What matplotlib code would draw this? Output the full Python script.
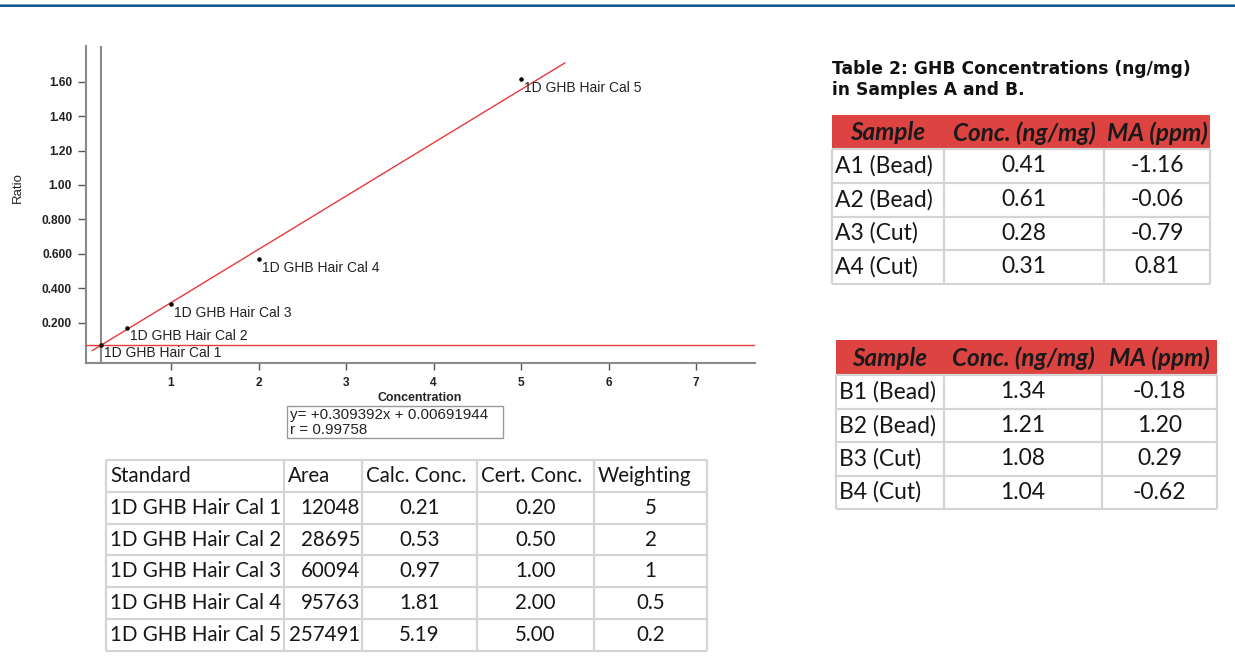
import numpy as np
import matplotlib
matplotlib.use("Agg")
import matplotlib.pyplot as plt
from matplotlib.patches import Rectangle

# ---------------- data ----------------
cal_names = ["1D GHB Hair Cal 1", "1D GHB Hair Cal 2", "1D GHB Hair Cal 3",
             "1D GHB Hair Cal 4", "1D GHB Hair Cal 5"]
cal_conc = [0.2, 0.5, 1.0, 2.0, 5.0]
cal_ratio = [0.072, 0.171, 0.307, 0.567, 1.613]
fit_slope = 0.309392
fit_intercept = 0.00691944
fit_r = 0.99758
fit_x_range = [0.1, 5.5]

y_ticks = [0.2, 0.4, 0.6, 0.8, 1.0, 1.2, 1.4, 1.6]
y_tick_labels = ["0.200", "0.400", "0.600", "0.800", "1.00", "1.20", "1.40", "1.60"]
x_ticks = [1, 2, 3, 4, 5, 6, 7]

std_header = ["Standard", "Area", "Calc. Conc.", "Cert. Conc.", "Weighting"]
std_area = ["12048", "28695", "60094", "95763", "257491"]
std_calc = ["0.21", "0.53", "0.97", "1.81", "5.19"]
std_cert = ["0.20", "0.50", "1.00", "2.00", "5.00"]
std_weight = ["5", "2", "1", "0.5", "0.2"]

tab_title = "Table 2: GHB Concentrations (ng/mg)\nin Samples A and B."
samp_header = ["Sample", "Conc. (ng/mg)", "MA (ppm)"]
a_samples = ["A1 (Bead)", "A2 (Bead)", "A3 (Cut)", "A4 (Cut)"]
a_conc = ["0.41", "0.61", "0.28", "0.31"]
a_ma = ["-1.16", "-0.06", "-0.79", "0.81"]
b_samples = ["B1 (Bead)", "B2 (Bead)", "B3 (Cut)", "B4 (Cut)"]
b_conc = ["1.34", "1.21", "1.08", "1.04"]
b_ma = ["-0.18", "1.20", "0.29", "-0.62"]

# ---------------- figure ----------------
W, H = 1235, 662
fig = plt.figure(figsize=(W / 100, H / 100), dpi=100)
fig.patch.set_facecolor("white")

CHART_FONT = ["Liberation Sans", "DejaVu Sans"]
TABLE_FONT = ["Lato", "DejaVu Sans"]
AXIS_GRAY = "#8a8a8a"
RED = "#e8383a"
TXT = "#161616"

# chart axes (pixel box: x 86..755, y 46..362.7)
ax = fig.add_axes([86 / W, 1 - 362.7 / H, (755 - 86) / W, (362.7 - 46) / H])
ax.set_xlim(0.0286, 7.674)
ax.set_ylim(-0.0325, 1.807)
for s in ["top", "right"]:
    ax.spines[s].set_visible(False)
for s in ["left", "bottom"]:
    ax.spines[s].set_color(AXIS_GRAY)
    ax.spines[s].set_linewidth(1.5)
ax.set_yticks(y_ticks)
ax.set_yticklabels(y_tick_labels)
ax.set_xticks(x_ticks)
ax.set_xticklabels([str(t) for t in x_ticks])
ax.tick_params(axis="y", direction="out", length=6, width=1, color="#555555", pad=4,
               labelsize=8.6, labelcolor="#222222")
ax.tick_params(axis="x", direction="out", length=5, width=1, color="#555555", pad=5,
               labelsize=8.6, labelcolor="#222222")
for lab in ax.get_xticklabels() + ax.get_yticklabels():
    lab.set_fontweight("bold")
    lab.set_family(CHART_FONT)

# regression line
fx = np.array(fit_x_range)
ax.plot(fx, fit_slope * fx + fit_intercept, color=RED, lw=1.0, zorder=3)
# cursor lines at first calibrator
ax.axhline(cal_ratio[0], color=RED, lw=1.0, zorder=3)
ax.axvline(cal_conc[0], color=AXIS_GRAY, lw=1.5, zorder=2)
# points
ax.scatter(cal_conc, cal_ratio, s=5, color="black", zorder=4)
for name, cx, cy in zip(cal_names, cal_conc, cal_ratio):
    ax.annotate(name, (cx, cy), xytext=(3, -8.5), textcoords="offset pixels",
                ha="left", va="center", fontsize=10, family=CHART_FONT, color="#222222")

# overlay in pixel coordinates
ov = fig.add_axes([0, 0, 1, 1])
ov.set_xlim(0, W)
ov.set_ylim(H, 0)
ov.axis("off")
ov.patch.set_visible(False)

# top band
ov.add_patch(Rectangle((0, 3.8), W, 1.0, color="#6c9cc4", lw=0))
ov.add_patch(Rectangle((0, 4.8), W, 2.4, color="#0f5a8e", lw=0))

# axis labels
ov.text(18, 188, "Ratio", rotation=90, ha="center", va="center", fontsize=9.5,
        family=CHART_FONT, color="#222222")
ov.text(420, 398, "Concentration", ha="center", va="center", fontsize=8.9,
        fontweight="bold", family=CHART_FONT, color="#222222")

# equation box
ov.add_patch(Rectangle((287, 406), 216, 32, fill=False, edgecolor="#999999", lw=1))
ov.text(290, 414.5, "y= +%.6fx + %.8f" % (fit_slope, fit_intercept), ha="left", va="center",
        fontsize=10.9, family=CHART_FONT, color="#222222")
ov.text(290, 430.5, "r = %.5f" % fit_r, ha="left", va="center",
        fontsize=10.9, family=CHART_FONT, color="#222222")

GRID = "#d4d4d4"


def grid(xe, ye, top_line=True):
    y0 = ye[0] if top_line else ye[1]
    for x in xe:
        ov.plot([x, x], [y0, ye[-1]], color=GRID, lw=1.6, solid_capstyle="butt")
    for i, y in enumerate(ye):
        if i == 0 and not top_line:
            continue
        ov.plot([xe[0], xe[-1]], [y, y], color=GRID, lw=1.6, solid_capstyle="butt")


# ---- standards table ----
sx = [106, 284, 362, 477, 594, 707]
sy = [460 + 31.8 * i for i in range(7)]
grid(sx, sy)
FS = 14.8
for j, h in enumerate(std_header):
    ov.text(sx[j] + 4, (sy[0] + sy[1]) / 2, h, ha="left", va="center", fontsize=FS,
            family=TABLE_FONT, color=TXT)
for i in range(5):
    yc = (sy[i + 1] + sy[i + 2]) / 2
    ov.text(sx[0] + 4, yc, cal_names[i], ha="left", va="center", fontsize=FS,
            family=TABLE_FONT, color=TXT)
    ov.text(sx[2] - 2, yc, std_area[i], ha="right", va="center", fontsize=FS,
            family=TABLE_FONT, color=TXT)
    for j, col in ((2, std_calc), (3, std_cert), (4, std_weight)):
        ov.text((sx[j] + sx[j + 1]) / 2, yc, col[i], ha="center", va="center", fontsize=FS,
                family=TABLE_FONT, color=TXT)

# ---- title ----
ov.text(832, 79.5, tab_title, ha="left", va="center", fontsize=12.3, fontweight="bold",
        family=["DejaVu Sans"], color="#111111", linespacing=1.2)

HEADER_RED = "#dc4341"
FS2 = 16.5


def sample_table(xe, ye, samples, conc, ma):
    ov.add_patch(Rectangle((xe[0], ye[0]), xe[-1] - xe[0], ye[1] - ye[0],
                           color=HEADER_RED, lw=0))
    grid(xe, ye, top_line=False)
    for j, h in enumerate(samp_header):
        ov.text((xe[j] + xe[j + 1]) / 2, (ye[0] + ye[1]) / 2 + 1, h, ha="center",
                va="center", fontsize=17.5, fontweight="bold", style="italic",
                family=TABLE_FONT, color="#1a1a1a")
    for i in range(len(samples)):
        yc = (ye[i + 1] + ye[i + 2]) / 2
        ov.text(xe[0] + 3, yc, samples[i], ha="left", va="center", fontsize=FS2,
                family=TABLE_FONT, color=TXT)
        ov.text((xe[1] + xe[2]) / 2, yc, conc[i], ha="center", va="center", fontsize=FS2,
                family=TABLE_FONT, color=TXT)
        ov.text((xe[2] + xe[3]) / 2, yc, ma[i], ha="center", va="center", fontsize=FS2,
                family=TABLE_FONT, color=TXT)


sample_table([832, 944, 1104, 1210], [115, 149, 183, 216.5, 250, 283.5],
             a_samples, a_conc, a_ma)
sample_table([836, 944, 1102, 1217], [340, 375, 409, 442, 475.5, 509],
             b_samples, b_conc, b_ma)

fig.savefig("out.png", dpi=100)
